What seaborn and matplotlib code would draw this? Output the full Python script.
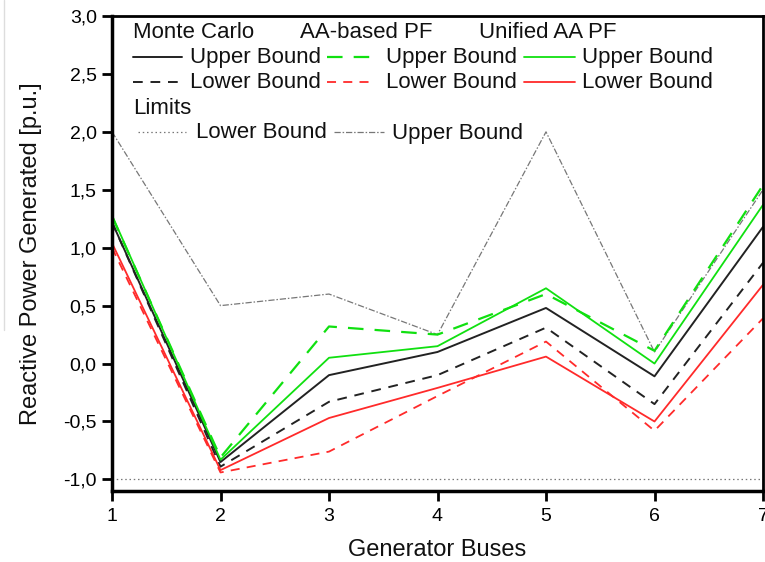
import numpy as np
import pandas as pd
import matplotlib
matplotlib.use("Agg")
import matplotlib.pyplot as plt
from matplotlib.lines import Line2D
from matplotlib.ticker import FuncFormatter
import seaborn as sns

# Generator buses
buses = [1, 2, 3, 4, 5, 6, 7]

# Monte Carlo bounds
mc_upper = [1.22, -0.85, -0.10, 0.10, 0.48, -0.11, 1.18]
mc_lower = [1.22, -0.89, -0.33, -0.10, 0.31, -0.35, 0.87]

# AA-based power flow bounds
aa_upper = [1.27, -0.81, 0.32, 0.25, 0.60, 0.11, 1.54]
aa_lower = [1.00, -0.94, -0.76, -0.28, 0.19, -0.58, 0.39]

# Unified AA power flow bounds
un_upper = [1.28, -0.83, 0.05, 0.15, 0.65, 0.00, 1.37]
un_lower = [1.04, -0.92, -0.47, -0.21, 0.06, -0.50, 0.68]

# Reactive power limits
lim_lower = [-1.0, -1.0, -1.0, -1.0, -1.0, -1.0, -1.0]
lim_upper = [2.0, 0.5, 0.6, 0.25, 2.0, 0.1, 1.5]

W, H = 765, 562
sns.set_theme(style="white")
plt.rcParams["font.family"] = ["Liberation Sans", "DejaVu Sans"]

fig = plt.figure(figsize=(W / 100, H / 100), dpi=100)
ax = fig.add_axes([112 / W, 1 - 491 / H, (763 - 112) / W, (491 - 16) / H])

GREEN = "#10e010"
RED = "#ff2a2a"
BLACK = "#222222"
GREY = "#777777"

styles = {
    "lim_lower": dict(color=GREY, lw=0.9, linestyle=(0, (1.2, 2.2))),
    "lim_upper": dict(color=GREY, lw=0.9, linestyle=(0, (5, 1.5, 1.2, 1.5))),
    "mc_upper": dict(color=BLACK, lw=1.4, linestyle="-"),
    "mc_lower": dict(color=BLACK, lw=1.4, linestyle=(0, (5, 4))),
    "aa_upper": dict(color=GREEN, lw=1.6, linestyle=(0, (7, 5))),
    "aa_lower": dict(color=RED, lw=1.3, linestyle=(0, (5, 4))),
    "un_upper": dict(color=GREEN, lw=1.3, linestyle="-"),
    "un_lower": dict(color=RED, lw=1.3, linestyle="-"),
}
series = {
    "lim_lower": lim_lower,
    "lim_upper": lim_upper,
    "mc_lower": mc_lower,
    "aa_lower": aa_lower,
    "un_lower": un_lower,
    "mc_upper": mc_upper,
    "un_upper": un_upper,
    "aa_upper": aa_upper,
}
for name, vals in series.items():
    df = pd.DataFrame({"bus": buses, "q": vals})
    sns.lineplot(data=df, x="bus", y="q", ax=ax, estimator=None, sort=False,
                 **styles[name])

ax.set_xlim(1, 7)
ax.set_ylim(-1.1, 3.0)
ax.set_xticks(buses)
ax.set_yticks(np.arange(-1.0, 3.01, 0.5))
ax.yaxis.set_major_formatter(FuncFormatter(lambda v, p: f"{v:.1f}".replace(".", ",")))
ax.tick_params(axis="both", direction="out", length=7, width=2, colors="black",
               labelsize=14, pad=4, left=True, bottom=True)
ax.tick_params(axis="x", pad=5)
for s in ax.spines.values():
    s.set_visible(True)
    s.set_color("black")
    s.set_linewidth(2)
ax.spines["left"].set_linewidth(2.5)
ax.spines["bottom"].set_linewidth(2.5)
ax.set_xlabel("Generator Buses", fontsize=17, color="#111111", labelpad=10)
ax.set_ylabel("Reactive Power Generated [p.u.]", fontsize=17, color="#111111", labelpad=15)


def fx(x):
    return x / W


def fy(y):
    return 1 - y / H


LFS = 16
# legend headers
for x, txt in [(133, "Monte Carlo"), (300, "AA-based PF"), (479, "Unified AA PF")]:
    fig.text(fx(x), fy(33), txt, fontsize=LFS, va="center", ha="left", color="#111111")
fig.text(fx(133), fy(108), "Limits", fontsize=LFS, va="center", ha="left", color="#111111")

rows = [
    (57, [("mc_upper", 133, 182, 190), ("aa_upper", 327, 374, 386), ("un_upper", 524, 575, 582)], "Upper Bound"),
    (82, [("mc_lower", 133, 182, 190), ("aa_lower", 327, 374, 386), ("un_lower", 524, 575, 582)], "Lower Bound"),
]
for y, items, label in rows:
    for key, x0, x1, xt in items:
        st = styles[key]
        fig.add_artist(Line2D([fx(x0), fx(x1)], [fy(y), fy(y)], transform=fig.transFigure,
                              color=st["color"], lw=st["lw"], linestyle=st["linestyle"]))
        fig.text(fx(xt), fy(y + 1), label, fontsize=LFS, va="center", ha="left", color="#111111")

for key, x0, x1, xt, label in [("lim_lower", 138, 186, 196, "Lower Bound"),
                               ("lim_upper", 334, 384, 392, "Upper Bound")]:
    st = styles[key]
    fig.add_artist(Line2D([fx(x0), fx(x1)], [fy(132), fy(132)], transform=fig.transFigure,
                          color=st["color"], lw=st["lw"], linestyle=st["linestyle"]))
    fig.text(fx(xt), fy(133), label, fontsize=LFS, va="center", ha="left", color="#111111")

# thin frame edge on the left
fig.add_artist(Line2D([fx(4), fx(4)], [fy(0), fy(330)], transform=fig.transFigure,
                      color="#dddddd", lw=1))

fig.savefig("out.png", dpi=100)
